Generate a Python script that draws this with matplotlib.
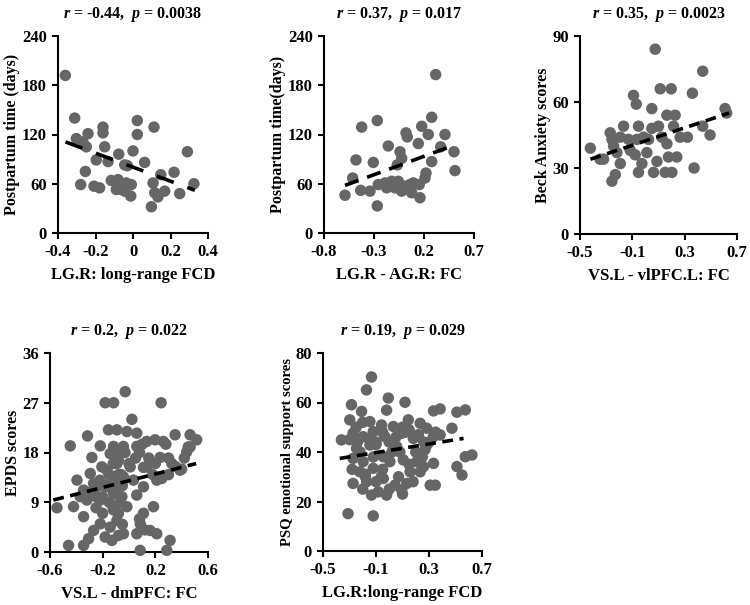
import numpy as np
import matplotlib
matplotlib.use('Agg')
import matplotlib.pyplot as plt

plt.rcParams.update({'font.family': 'Liberation Serif', 'font.weight': 'bold',
                     'mathtext.fontset': 'custom',
                     'mathtext.it': 'Liberation Serif:italic:bold',
                     'mathtext.rm': 'Liberation Serif:bold'})

# panel A: LG.R long-range FCD vs postpartum time
a_x = [-0.361, -0.311, -0.302, -0.24, -0.249, -0.267, -0.16, -0.16, -0.151, -0.254,
       -0.279, -0.208, -0.178, -0.196, -0.133, -0.076, 0.0, 0.023, 0.023, 0.112,
       0.062, -0.044, -0.03, -0.116, -0.08, -0.089, -0.036, -0.009, -0.012, -0.062,
       0.107, 0.116, 0.098, 0.169, 0.148, 0.219, 0.133, 0.249, 0.29, 0.325, -0.044]
a_y = [192, 140, 115, 121, 105, 111, 129, 122, 105, 75,
       59, 57, 55, 89, 87, 96, 100, 137, 120, 129,
       86, 83, 82, 64, 65, 53, 61, 59, 45, 53,
       61, 49, 32, 51, 71, 74, 44, 48, 99, 60, 51]
a_fit_x = [-0.36, 0.33]
a_fit_y = [111, 52]

# panel B: LG.R - AG.R FC vs postpartum time
b_x = [0.317, -0.423, -0.267, -0.48, -0.307, -0.513, -0.59, -0.433, -0.34, -0.267,
       -0.157, -0.04, -0.023, -0.067, 0.02, 0.033, 0.143, 0.177, 0.243, 0.277,
       0.277, 0.22, 0.41, 0.367, 0.5, 0.51, -0.257, -0.19, -0.123, -0.057,
       -0.173, -0.09, -0.023, 0.06, 0.093, 0.153, 0.077, 0.16, 0.21, 0.01]
b_y = [193, 129, 137, 89, 86, 67, 46, 52, 51, 33,
       106, 99, 91, 83, 122, 117, 109, 130, 120, 141,
       87, 73, 120, 105, 99, 76, 59, 61, 63, 63,
       55, 55, 51, 59, 61, 59, 49, 43, 67, 57]
b_fit_x = [-0.59, 0.48]
b_fit_y = [58, 106]

# panel C: VS.L - vlPFC.L FC vs Beck Anxiety
c_x = [0.075, 0.438, 0.113, 0.197, 0.359, -0.091, -0.07, 0.049, 0.609, 0.621,
       -0.421, -0.32, -0.256, -0.23, 0.494, 0.372, 0.438, 0.321, -0.269, -0.256,
       -0.167, -0.192, -0.218, -0.129, -0.116, -0.053, -0.065, -0.078, -0.053, -0.027,
       0.011, 0.024, 0.049, 0.1, 0.062, 0.088, 0.151, 0.202, 0.176, 0.164,
       0.164, 0.227, 0.215, 0.24, 0.265, -0.014, 0.125, -0.192, -0.243, -0.347]
c_y = [84, 74, 66, 66, 64, 63, 59, 57, 57, 55,
       39, 34, 24, 27, 45, 30, 49, 44, 46, 43,
       49, 32, 37, 43, 38, 49, 43, 36, 28, 32,
       37, 43, 48, 49, 28, 33, 28, 28, 35, 41,
       54, 54, 49, 35, 44, 44, 44, 44, 40, 34]
c_fit_x = [-0.42, 0.64]
c_fit_y = [34, 55]

# panel D: VS.L - dmPFC FC vs EPDS
d_x = [-0.029, -0.181, -0.117, 0.244, 0.022, -0.446, -0.315, -0.156, -0.092, -0.218,
       -0.282, -0.016, 0.059, 0.135, 0.198, 0.261, 0.35, 0.464, 0.514, 0.438,
       0.236, 0.11, 0.325, 0.249, 0.388, -0.042, -0.08, -0.168, -0.294, -0.395,
       -0.345, -0.244, -0.143, -0.042, 0.009, 0.034, 0.11, 0.059, -0.117, -0.218,
       -0.32, -0.547, -0.421, -0.345, -0.117, -0.092, -0.218, -0.269, -0.181, -0.13,
       -0.042, -0.307, -0.459, -0.345, 0.186, 0.11, 0.085, 0.059, 0.16, 0.211,
       0.085, 0.312, 0.287, -0.092, -0.054, -0.143, -0.206, -0.016, -0.08, -0.143,
       0.135, 0.211, 0.464, -0.168, -0.269, -0.37, 0.059, -0.117, -0.19, -0.25,
       -0.06, -0.1, -0.15, 0.0, 0.08, 0.15, 0.3, 0.4, -0.2, -0.05,
       -0.1, -0.12, -0.08, -0.1, -0.07, -0.12, -0.05, -0.08, -0.2, -0.25,
       -0.28, -0.22, -0.15, -0.03, 0.05, 0.1, 0.12, 0.08, 0.18, 0.3,
       0.35, 0.42, 0.45, 0.2, 0.28]
d_y = [29, 27, 27, 27, 24, 19.2, 21, 22.1, 22.1, 19.2,
       17.1, 21.8, 21.5, 20, 20.3, 20, 21.2, 21.2, 20.3, 18.1,
       17.1, 15.3, 16, 13.3, 14.8, 19.1, 16.6, 14.8, 14.2, 13,
       11.2, 11.8, 12.4, 13.6, 15.4, 13, 11.8, 10.3, 10.6, 9.4,
       9.4, 8, 8.2, 6.4, 7.6, 5.7, 5.1, 3.9, 2.7, 2.1,
       3.3, 2.4, 1.2, 1.2, 8.2, 7, 5.1, 3.3, 3.9, 3.3,
       0.3, 2.1, 0.3, 16, 10, 17.8, 15.4, 8.2, 7, 4.5,
       15.4, 13, 19, 11.8, 12.4, 10, 19.1, 19.1, 12, 10,
       14, 13, 9, 16, 18, 17, 17, 15, 7, 12,
       18, 16, 14, 11, 9, 8, 5, 3, 10, 8,
       11, 13, 14, 18, 17, 19.5, 4, 6, 14, 14,
       15.5, 17, 19, 16, 19.5]
d_fit_x = [-0.575, 0.51]
d_fit_y = [9.4, 16]

# panel E: LG.R long-range FCD vs PSQ emotional support
e_x = [-0.134, -0.172, -0.007, 0.119, -0.02, -0.285, -0.209, 0.334, 0.384, 0.511,
       0.574, -0.298, -0.146, -0.058, 0.031, 0.144, 0.233, 0.283, 0.473, -0.361,
       -0.273, -0.197, -0.121, -0.033, 0.094, 0.182, 0.334, 0.384, -0.247, -0.146,
       0.056, 0.283, -0.273, -0.197, -0.045, 0.005, 0.106, 0.207, 0.258, 0.334,
       0.574, 0.624, 0.511, 0.549, -0.222, -0.121, 0.157, 0.233, -0.273, -0.171,
       -0.045, 0.043, 0.094, 0.132, -0.083, -0.02, -0.134, 0.309, 0.347, -0.311,
       -0.121, -0.24, -0.1, 0.0, 0.08, 0.2, -0.18, 0.12, 0.26, -0.06,
       -0.25, -0.2, -0.15, -0.1, -0.05, 0.05, 0.1, 0.15, 0.22, 0.3,
       0.35, -0.22, -0.18, -0.1, -0.05, 0.07, 0.15, 0.18, 0.25, -0.28,
       -0.3, -0.2, 0.0, 0.1, 0.27, -0.12, 0.02]
e_y = [70.3, 65.1, 61.8, 60.1, 56.9, 59.1, 56.4, 56.6, 57.4, 56.1,
       57, 53, 52.3, 50.9, 50.3, 53, 51.6, 49.6, 49.6, 44.9,
       47.6, 46.2, 48.2, 46.2, 47.6, 45.5, 46.2, 46.9, 41.5, 42.8,
       42.2, 42.8, 37.4, 36.1, 38.1, 36.1, 36.8, 36.1, 34.1, 35.4,
       38.1, 38.8, 34.1, 30.7, 32, 33.4, 32, 32, 27.3, 28,
       29.3, 26.6, 24.6, 27.3, 23.9, 22.6, 22.6, 26.6, 26.6, 15.1,
       14.2, 44, 43, 44, 40, 40, 31, 48, 44, 30,
       50, 52, 45, 44, 48, 46, 50, 49, 47, 44,
       48, 40, 30, 28, 33, 30, 35, 28, 38, 33,
       45, 25, 25, 23, 41, 38, 40]
e_fit_x = [-0.374, 0.561]
e_fit_y = [37.4, 45.5]

panels = [
    # x, y, fit x, fit y, xlabel, ylabel, ylabel size, title, xticks, yticks, box (px), dashes
    (a_x, a_y, a_fit_x, a_fit_y, 'LG.R: long-range FCD', 'Postpartum time (days)', 11.5,
     r'$\mathit{r}$ = -0.44,  $\mathit{p}$ = 0.0038',
     [-0.4, -0.2, 0, 0.2, 0.4], [0, 60, 120, 180, 240], (58, 36, 208, 233), (5, 4)),
    (b_x, b_y, b_fit_x, b_fit_y, 'LG.R - AG.R: FC', 'Postpartum time(days)', 11.5,
     r'$\mathit{r}$ = 0.37,  $\mathit{p}$ = 0.017',
     [-0.8, -0.3, 0.2, 0.7], [0, 60, 120, 180, 240], (324, 36, 474, 233), (4, 2.5)),
    (c_x, c_y, c_fit_x, c_fit_y, 'VS.L - vlPFC.L: FC', 'Beck Anxiety scores', 11.5,
     r'$\mathit{r}$ = 0.35,  $\mathit{p}$ = 0.0023',
     [-0.5, -0.1, 0.3, 0.7], [0, 30, 60, 90], (580, 36, 737, 234), (3, 1.8)),
    (d_x, d_y, d_fit_x, d_fit_y, 'VS.L - dmPFC: FC', 'EPDS scores', 11.5,
     r'$\mathit{r}$ = 0.2,  $\mathit{p}$ = 0.022',
     [-0.6, -0.2, 0.2, 0.6], [0, 9, 18, 27, 36], (50, 353, 208, 552), (3, 1.8)),
    (e_x, e_y, e_fit_x, e_fit_y, 'LG.R:long-range FCD', 'PSQ emotional support scores', 10.5,
     r'$\mathit{r}$ = 0.19,  $\mathit{p}$ = 0.029',
     [-0.5, -0.1, 0.3, 0.7], [0, 20, 40, 60, 80], (323, 353, 482, 551), (3, 1.8)),
]

W, H = 750, 605
fig = plt.figure(figsize=(7.5, 6.05), dpi=100)

for x, y, fx, fy, xl, yl, yls, title, xt, yt, box, dash in panels:
    l, t, r, b = box
    ax = fig.add_axes([l / W, 1 - b / H, (r - l) / W, (b - t) / H])
    ax.scatter(x, y, s=68, color='#666666', edgecolors='none', zorder=3, clip_on=False)
    ax.plot(fx, fy, color='black', lw=2.6, dashes=dash, zorder=4)
    ax.set_xlim(xt[0], xt[-1])
    ax.set_ylim(yt[0], yt[-1])
    ax.set_xticks(xt)
    ax.set_yticks(yt)
    ax.set_xticklabels([('%g' % v) for v in xt])
    ax.spines['top'].set_visible(False)
    ax.spines['right'].set_visible(False)
    for s in ('left', 'bottom'):
        ax.spines[s].set_linewidth(1.5)
    ax.tick_params(direction='out', length=4, width=1.5, labelsize=12, pad=4)
    ax.set_xlabel(xl, fontsize=12, fontweight='bold', labelpad=5)
    ax.set_ylabel(yl, fontsize=yls, fontweight='bold', labelpad=1)
    ax.set_title(title, fontsize=11.5, fontweight='bold', pad=13)

plt.savefig('out.png', dpi=100)
